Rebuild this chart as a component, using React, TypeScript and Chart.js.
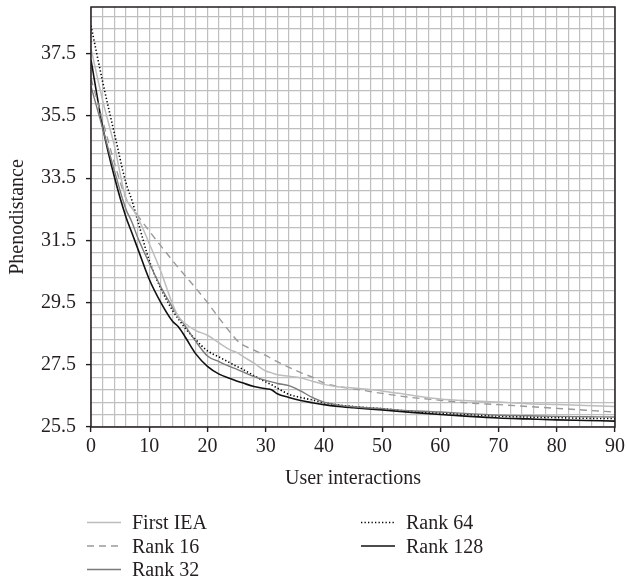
import React, { useEffect, useRef } from "react";
import { Chart, registerables } from "chart.js";

Chart.register(...registerables);

// ---- Data ----
const xValues = [0, 2, 4, 6, 7, 8, 10, 12, 14, 15, 16, 18, 20, 22, 24, 25, 26, 28, 30, 31, 32, 34, 36, 38, 40, 42, 45, 50, 55, 60, 65, 70, 75, 80, 85, 90];

const firstIEA = [37.66, 36.0, 34.55, 32.85, 32.55, 32.25, 31.4, 30.5, 29.45, 29.05, 28.85, 28.6, 28.45, 28.2, 27.97, 27.9, 27.78, 27.55, 27.3, 27.24, 27.18, 27.13, 27.08, 26.97, 26.87, 26.8, 26.75, 26.66, 26.52, 26.4, 26.34, 26.3, 26.25, 26.22, 26.19, 26.16];
const rank16 = [36.7, 35.35, 34.0, 32.85, 32.55, 32.3, 31.8, 31.32, 30.85, 30.62, 30.4, 29.96, 29.5, 29.0, 28.52, 28.3, 28.15, 27.97, 27.8, 27.7, 27.6, 27.42, 27.25, 27.1, 26.92, 26.82, 26.73, 26.58, 26.45, 26.36, 26.27, 26.22, 26.16, 26.1, 26.04, 25.98];
const rank32 = [36.45, 35.1, 33.75, 32.5, 32.1, 31.6, 30.77, 30.0, 29.35, 29.05, 28.8, 28.25, 27.78, 27.6, 27.43, 27.36, 27.28, 27.12, 27.0, 26.95, 26.9, 26.83, 26.66, 26.45, 26.3, 26.22, 26.15, 26.09, 26.02, 25.98, 25.93, 25.88, 25.86, 25.84, 25.83, 25.82];
const rank64 = [38.4, 36.6, 34.95, 33.35, 32.8, 32.15, 30.85, 29.95, 29.25, 28.98, 28.72, 28.3, 27.95, 27.75, 27.55, 27.45, 27.36, 27.15, 26.95, 26.86, 26.75, 26.55, 26.45, 26.37, 26.28, 26.22, 26.16, 26.09, 26.0, 25.95, 25.9, 25.85, 25.82, 25.8, 25.78, 25.77];
const rank128 = [37.3, 35.15, 33.55, 32.25, 31.75, 31.25, 30.25, 29.5, 28.9, 28.72, 28.45, 27.85, 27.45, 27.2, 27.05, 26.98, 26.92, 26.8, 26.73, 26.7, 26.57, 26.45, 26.35, 26.28, 26.22, 26.17, 26.12, 26.05, 25.97, 25.9, 25.84, 25.79, 25.76, 25.73, 25.71, 25.69];

const seriesLabels = ["First IEA", "Rank 16", "Rank 32", "Rank 64", "Rank 128"];

const xTickLabels = [0, 10, 20, 30, 40, 50, 60, 70, 80, 90];
const yTickLabels = [25.5, 27.5, 29.5, 31.5, 33.5, 35.5, 37.5];

const X_MIN = 0;
const X_MAX = 90;
const Y_MIN = 25.5;
const Y_MAX = 39;
const X_GRID_STEP = 2;
const Y_GRID_STEP = 0.4;

const FONT = "'Liberation Serif', 'Times New Roman', serif";
const INK = "#231f20";
const GRID = "#c0bec0";

const xGrid: number[] = [];
for (let v = X_MIN; v <= X_MAX + 1e-9; v += X_GRID_STEP) xGrid.push(Math.round(v * 10) / 10);
const yGrid: number[] = [];
for (let i = 0; Y_MIN + i * Y_GRID_STEP < Y_MAX - 1e-9; i++) yGrid.push(Math.round((Y_MIN + i * Y_GRID_STEP) * 10) / 10);

const isIn = (arr: number[], v: number) => arr.some((a) => Math.abs(a - v) < 1e-6);

const frameAndLegend = {
  id: "frameAndLegend",
  afterDraw(chart: any) {
    const ctx = chart.ctx as CanvasRenderingContext2D;
    const a = chart.chartArea;
    ctx.save();
    ctx.strokeStyle = INK;
    ctx.lineWidth = 1.5;
    ctx.strokeRect(a.left, a.top, a.right - a.left, a.bottom - a.top);
    ctx.restore();

    const slots = [
      [87, 522.5],
      [87, 546],
      [87, 569.5],
      [361, 522.5],
      [361, 546],
    ];
    chart.data.datasets.forEach((ds: any, i: number) => {
      const [x, y] = slots[i];
      ctx.save();
      ctx.strokeStyle = ds.borderColor;
      ctx.lineWidth = ds.borderWidth;
      ctx.lineCap = "butt";
      ctx.setLineDash(ds.borderDash || []);
      ctx.beginPath();
      ctx.moveTo(x, y);
      ctx.lineTo(x + 34, y);
      ctx.stroke();
      ctx.setLineDash([]);
      ctx.fillStyle = INK;
      ctx.font = `20px ${FONT}`;
      ctx.textBaseline = "alphabetic";
      ctx.textAlign = "left";
      ctx.fillText(ds.label, x + 45, y + 6.6);
      ctx.restore();
    });
  },
};

export default function App() {
  const ref = useRef<HTMLCanvasElement>(null);

  useEffect(() => {
    if (!ref.current) return;
    const toPts = (arr: number[]) => xValues.map((x, i) => ({ x, y: arr[i] }));
    const styles = [
      { color: "#bdbdbd", width: 1.5, dash: [] as number[] },
      { color: "#9a9a9a", width: 1.4, dash: [7, 5] },
      { color: "#7a7a7a", width: 1.4, dash: [] as number[] },
      { color: "#000000", width: 1.6, dash: [1.3, 2.2] },
      { color: "#111111", width: 1.6, dash: [] as number[] },
    ];
    const series = [firstIEA, rank16, rank32, rank64, rank128];

    const chart = new Chart(ref.current, {
      type: "line",
      data: {
        datasets: series.map((s, i) => ({
          label: seriesLabels[i],
          data: toPts(s),
          borderColor: styles[i].color,
          borderWidth: styles[i].width,
          borderDash: styles[i].dash,
          pointRadius: 0,
          fill: false,
          cubicInterpolationMode: "monotone" as const,
        })),
      },
      options: {
        responsive: false,
        animation: false,
        devicePixelRatio: 1,
        layout: { padding: { left: 0, right: 12, top: 7, bottom: 84 } },
        plugins: { legend: { display: false }, tooltip: { enabled: false } },
        scales: {
          x: {
            type: "linear",
            min: X_MIN,
            max: X_MAX,
            afterBuildTicks: (s: any) => {
              s.ticks = xGrid.map((v) => ({ value: v }));
            },
            afterFit: (s: any) => {
              s.height = 70;
              s.paddingLeft = 0;
              s.paddingRight = 0;
              s.paddingTop = 0;
              s.paddingBottom = 0;
            },
            border: { display: false },
            grid: {
              color: GRID,
              lineWidth: 1.2,
              tickLength: 5,
              tickWidth: 1.4,
              tickColor: (c: any) => (c.tick && isIn(xTickLabels, c.tick.value) ? INK : "rgba(0,0,0,0)"),
            },
            ticks: {
              autoSkip: false,
              maxRotation: 0,
              padding: 3,
              color: INK,
              font: { family: FONT, size: 20 },
              callback: (v: any) => (isIn(xTickLabels, Number(v)) ? String(Number(v)) : ""),
            },
            title: {
              display: true,
              text: "User interactions",
              color: INK,
              font: { family: FONT, size: 20 },
              padding: { top: 0, bottom: 6.5 },
            },
          },
          y: {
            type: "linear",
            min: Y_MIN,
            max: Y_MAX,
            afterBuildTicks: (s: any) => {
              s.ticks = yGrid.map((v) => ({ value: v }));
            },
            afterFit: (s: any) => {
              s.width = 91;
              s.paddingLeft = 0;
              s.paddingRight = 0;
              s.paddingTop = 0;
              s.paddingBottom = 0;
            },
            border: { display: false },
            grid: {
              color: GRID,
              lineWidth: 1.2,
              tickLength: 5,
              tickWidth: 1.4,
              tickColor: (c: any) => (c.tick && isIn(yTickLabels, c.tick.value) ? INK : "rgba(0,0,0,0)"),
            },
            ticks: {
              autoSkip: false,
              padding: 10,
              color: INK,
              font: { family: FONT, size: 20 },
              callback: (v: any) => (isIn(yTickLabels, Number(v)) ? Number(v).toFixed(1) : ""),
            },
            title: {
              display: true,
              text: "Phenodistance",
              color: INK,
              font: { family: FONT, size: 20 },
              padding: { top: 6, bottom: 0 },
            },
          },
        },
      },
      plugins: [frameAndLegend],
    });
    return () => chart.destroy();
  }, []);

  return (
    <div style={{ position: "absolute", left: 0, top: 0, width: 627, height: 581, background: "#fff" }}>
      <canvas ref={ref} width={627} height={581} style={{ display: "block", width: 627, height: 581 }} />
    </div>
  );
}
